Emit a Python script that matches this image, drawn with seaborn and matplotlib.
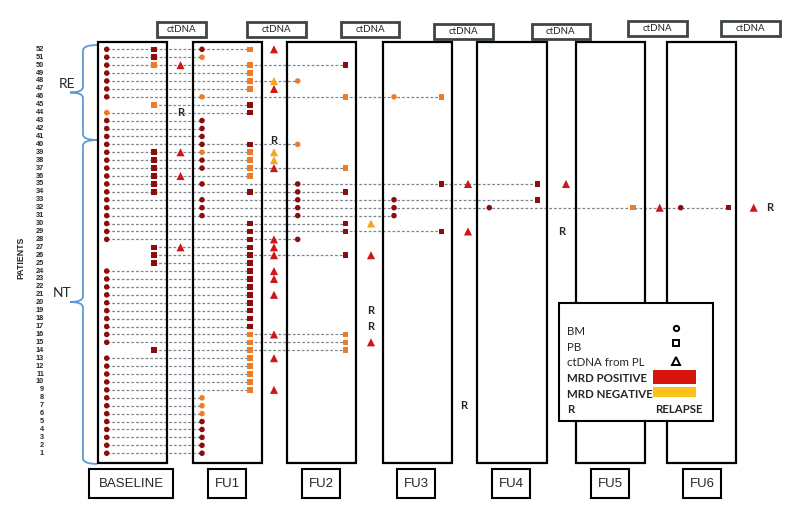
import matplotlib
matplotlib.use("Agg")
import matplotlib.pyplot as plt
from matplotlib.patches import Rectangle, PathPatch
from matplotlib.path import Path
import seaborn as sns
import pandas as pd

# ---------------- data ----------------
TIMEPOINTS = ["BASELINE", "FU1", "FU2", "FU3", "FU4", "FU5", "FU6"]
PATIENTS = list(range(1, 53))

# patients per timepoint (index = timepoint) for each sample type / MRD status
BM_POS = [
    [52, 51, 50, 49, 48, 47, 46, 43, 42, 41, 40, 39, 38, 37, 36, 35, 34, 33, 32, 31, 30, 29, 28,
     24, 23, 22, 21, 20, 19, 18, 17, 16, 15, 13, 12, 11, 10, 9, 8, 7, 6, 5, 4, 3, 2, 1],
    [52, 43, 42, 41, 40, 38, 37, 35, 33, 32, 31, 5, 4, 3, 2, 1],
    [35, 34, 33, 32, 31, 28],
    [33, 32, 31],
    [32],
    [],
    [32],
]
BM_NEG = [[44], [51, 46, 39, 8, 7, 6], [48, 40], [46], [], [], []]
PB_POS = [
    [52, 51, 39, 38, 37, 36, 35, 34, 27, 26, 25, 14],
    [45, 44, 40, 34, 30, 29, 28, 27, 26, 25, 24, 23, 22, 21, 20, 19, 18, 17],
    [50, 34, 30, 29, 26],
    [35, 29],
    [35, 33],
    [],
    [32],
]
PB_NEG = [
    [50, 45],
    [52, 50, 49, 48, 47, 39, 38, 37, 36, 16, 15, 14, 13, 12, 11, 10, 9],
    [46, 37, 16, 15, 14],
    [46],
    [],
    [32],
    [],
]
CT_POS = [[50, 39, 36, 27], [52, 47, 37, 28, 27, 26, 24, 23, 21, 16, 13, 9], [26, 15], [35, 29], [35], [32], [32]]
CT_NEG = [[], [48, 39, 38], [30], [], [], [], []]

RELAPSE_PATIENT = [44, 40, 19, 17, 7, 29, 32]
RELAPSE_TP = [0, 1, 2, 2, 3, 4, 6]

GROUPS = ["RE", "NT"]
GROUP_FIRST = [41, 1]
GROUP_LAST = [52, 40]

# ---------------- layout ----------------
W, H = 789, 505
Y0, DY = 49.3, 7.92          # pixel row of patient 52, pixel spacing per patient


def yv(pix):
    return 52 - (pix - Y0) / DY


BOX_LEFT = [98, 192.7, 287, 383, 477.3, 576, 667]
BOX_W = 69.5
BM_X = [106.7, 202, 297.7, 394, 489.3, 587, 680.7]
PB_X = [154, 250, 345.7, 441.7, 537.7, 633, 728.7]
CT_X = [180.5, 274, 371, 468, 566, 659.7, 753.7]
R_X = [181, 274, 371, 464, 562, 657, 770]
R_NUDGE = {40: 0.45}
CT_BOX_CX = [181.7, 276.2, 370, 463.5, 560.8, 657.2, 750.5]
CT_BOX_W = [48.7, 59, 58.6, 58.4, 58.3, 59, 59]
CT_BOX_TOP = [22.3, 22.3, 22.3, 24.3, 24.3, 21.3, 21.3]
LBL_CX = [131.3, 227, 321.2, 415.9, 511.2, 610.3, 702]
LBL_W = [84, 37.4, 37.7, 38.3, 37.7, 38, 37.4]

DARK = "#8E0C0C"
ORANGE = "#F27A22"
RED = "#CE1518"
YELLOW = "#F7A51E"

# ---------------- build table ----------------
rows = []
for kind, xs, pos, neg in [("BM", BM_X, BM_POS, BM_NEG), ("PB", PB_X, PB_POS, PB_NEG),
                           ("ctDNA", CT_X, CT_POS, CT_NEG)]:
    for t in range(len(TIMEPOINTS)):
        for status, plist in (("POS", pos[t]), ("NEG", neg[t])):
            for p in plist:
                rows.append(dict(x=xs[t], patient=p, kind=kind, status=status,
                                 cls=("ct" if kind == "ctDNA" else "cell") + "_" + status))
df = pd.DataFrame(rows)

sns.set_style("white")
plt.rcParams["font.family"] = ["Liberation Sans", "DejaVu Sans"]

fig = plt.figure(figsize=(W / 100, H / 100), dpi=100)
ax = fig.add_axes([0, 0, 1, 1])
ax.set_xlim(0, W)
ax.set_ylim(yv(H), yv(0))
ax.axis("off")

# dashed follow-up lines: first mark -> last BM/PB mark
for p, g in df.groupby("patient"):
    cells = g[g["kind"] != "ctDNA"]
    if len(cells) == 0:
        continue
    x0, x1 = g["x"].min(), cells["x"].max()
    ax.plot([x0, x1], [p, p], color="#7E8790", lw=0.9, ls=(0, (2.2, 1.6)), zorder=1)

# time-point boxes
box_top, box_bot = yv(41.7), yv(463)
for i in range(len(TIMEPOINTS)):
    ax.add_patch(Rectangle((BOX_LEFT[i], box_bot), BOX_W, box_top - box_bot,
                           fill=False, ec="black", lw=1.6, zorder=2))

sns.scatterplot(data=df, x="x", y="patient", hue="cls", style="kind", size="kind",
                hue_order=["cell_POS", "cell_NEG", "ct_POS", "ct_NEG"],
                palette={"cell_POS": DARK, "cell_NEG": ORANGE, "ct_POS": RED, "ct_NEG": YELLOW},
                markers={"BM": "o", "PB": "s", "ctDNA": "^"},
                sizes={"BM": 16, "PB": 16, "ctDNA": 34},
                linewidth=0, legend=False, ax=ax, zorder=3)
ax.set_xlim(0, W)
ax.set_ylim(yv(H), yv(0))
ax.axis("off")

# relapse marks
for p, t in zip(RELAPSE_PATIENT, RELAPSE_TP):
    ax.text(R_X[t], p + R_NUDGE.get(p, 0), "R", ha="center", va="center", fontsize=8,
            fontweight="bold", family="Lato", zorder=4)

# patient numbers
for p in PATIENTS:
    ax.text(44, p, str(p), ha="right", va="center", fontsize=5.3, fontweight="bold")
ax.text(21, yv(258), "PATIENTS", rotation=90, ha="center", va="center", fontsize=6.3,
        fontweight="bold")

# group braces
for name, first, last in zip(GROUPS, GROUP_FIRST, GROUP_LAST):
    top = last + 0.54
    bot = first - 0.45 if name == "RE" else first - 1.35
    mid = (top + bot) / 2
    c = 0.7
    verts = [(97, top), (83, top), (83, top - c), (83, mid + c), (83, mid), (70, mid),
             (83, mid), (83, mid - c), (83, bot + c), (83, bot), (97, bot)]
    codes = [Path.MOVETO, Path.CURVE3, Path.CURVE3, Path.LINETO, Path.CURVE3, Path.CURVE3,
             Path.CURVE3, Path.CURVE3, Path.LINETO, Path.CURVE3, Path.CURVE3]
    ax.add_patch(PathPatch(Path(verts, codes), fill=False, ec="#5B9BD5", lw=1.3))
    ax.text(67 if name == "RE" else 62, mid + 1.1, name, ha="center", va="center",
            fontsize=10, family="Lato")

# ctDNA boxes on top
for i in range(len(TIMEPOINTS)):
    t = CT_BOX_TOP[i]
    ax.add_patch(Rectangle((CT_BOX_CX[i] - CT_BOX_W[i] / 2, yv(t + 14.8)), CT_BOX_W[i],
                           yv(t) - yv(t + 14.8), fc="white", ec="#3F4448", lw=2))
    ax.text(CT_BOX_CX[i], yv(t + 7.6), "ctDNA", ha="center", va="center", fontsize=7,
            family="Lato")

# time-point labels at bottom
for i, name in enumerate(TIMEPOINTS):
    ax.add_patch(Rectangle((LBL_CX[i] - LBL_W[i] / 2, yv(497.5)), LBL_W[i],
                           yv(469) - yv(497.5), fill=False, ec="black", lw=1.5))
    ax.text(LBL_CX[i], yv(484), name, ha="center", va="center", fontsize=9.5)

# legend
ax.add_patch(Rectangle((559.3, yv(420.7)), 713.3 - 559.3, yv(302.7) - yv(420.7),
                       fc="white", ec="black", lw=1.5, zorder=5))
leg_items = [("BM", 331.5, False), ("PB", 347.3, False), ("ctDNA from PL", 362, False),
             ("MRD POSITIVE", 378.3, True), ("MRD NEGATIVE", 394.3, True), ("R", 409.3, True)]
for txt, yp, bold in leg_items:
    ax.text(567, yv(yp), txt, ha="left", va="center", fontsize=8.3, family="Lato",
            fontweight="bold" if bold else "normal", zorder=6)
for mk, yp, ms in (("o", 327.7, 3.8), ("s", 342.7, 3.8), ("^", 360.5, 5.5)):
    ax.plot([676], [yv(yp)], marker=mk, ms=ms, mfc="white", mec="black", mew=1.4, zorder=6)
ax.add_patch(Rectangle((653.3, yv(384)), 42.4, yv(370) - yv(384), fc="#D8140F", ec="none", zorder=6))
ax.add_patch(Rectangle((653.3, yv(397.3)), 42.4, yv(386.7) - yv(397.3), fc="#FDC21A", ec="none", zorder=6))
ax.text(655, yv(409.3), "RELAPSE", ha="left", va="center", fontsize=8.3, family="Lato",
        fontweight="bold", zorder=6)

fig.savefig("out.png", dpi=100)
